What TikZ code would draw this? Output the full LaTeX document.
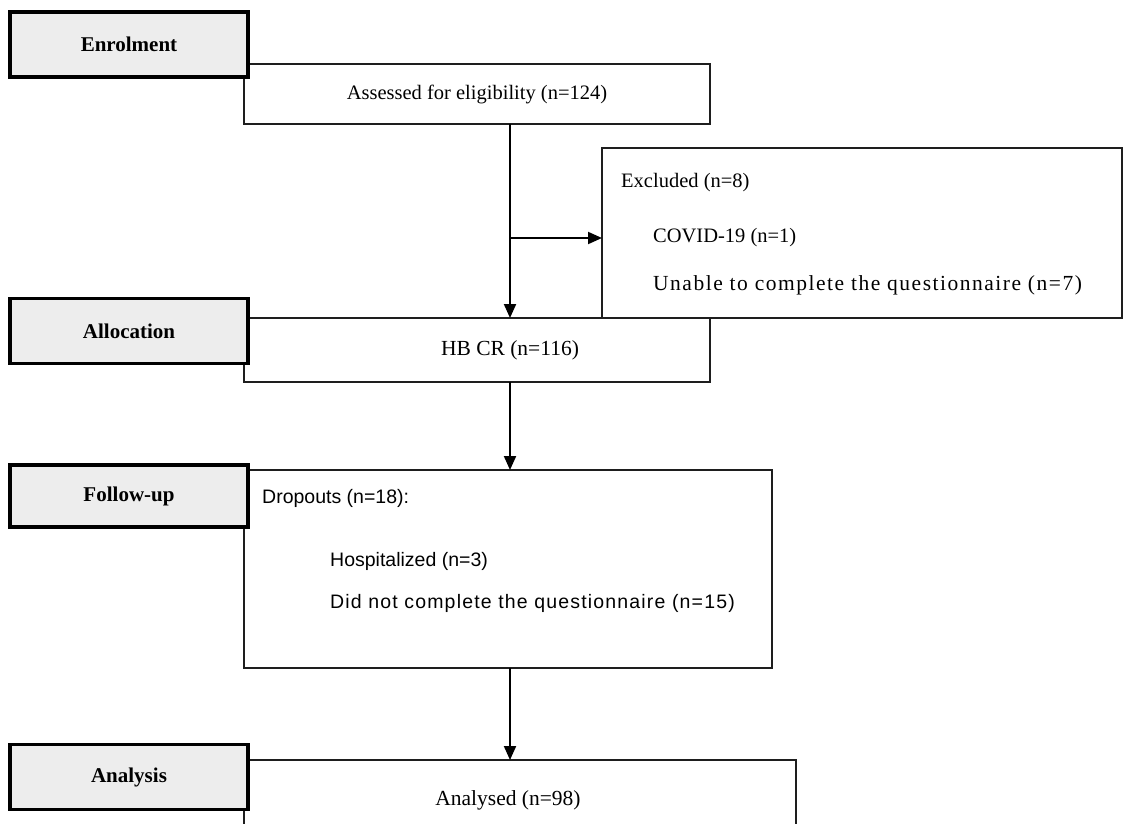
\documentclass[tikz,border=0pt]{standalone}
\usepackage{fontspec}
\setmainfont{Liberation Serif}
\newfontfamily\sansf{Liberation Sans}
\newfontfamily\widesansf[LetterSpace=6]{Liberation Sans}
\newfontfamily\wideserif[LetterSpace=7]{Liberation Serif}
\usetikzlibrary{arrows.meta}
\definecolor{hdrgray}{RGB}{237,237,237}
\definecolor{boxline}{RGB}{30,30,30}
\tikzset{
  hdr/.style={draw=black, line width=3.2pt, fill=hdrgray, font=\fontsize{21}{24}\selectfont\bfseries},
  mainbox/.style={draw=boxline, line width=2pt, fill=white},
  txt/.style={inner sep=0pt, font=\fontsize{20.5}{24}\selectfont},
  bigtxt/.style={inner sep=0pt, font=\fontsize{21.5}{25}\selectfont},
  stxt/.style={inner sep=0pt, font=\sansf\fontsize{19.5}{23}\selectfont},
  flow/.style={draw=black, line width=2pt, -{Triangle[length=14pt,width=12pt]}},
}
\begin{document}
\begin{tikzpicture}[x=1pt,y=-1pt]
\useasboundingbox (0,0) rectangle (1124,824);
\clip (0,0) rectangle (1124,824);
% main boxes
\draw[mainbox] (244,64) rectangle (710,124);
\node[txt] (assessed) at (477,94) {Assessed for eligibility (n=124)};
\draw[mainbox] (602,148) rectangle (1122,318);
\node[txt, anchor=west] (excl) at (621,183) {Excluded (n=8)};
\node[txt, anchor=west] (covid) at (653,238) {COVID-19 (n=1)};
\node[txt, anchor=west, font=\wideserif\fontsize{21.5}{25}\selectfont] (unable) at (653,285) {Unable to complete the questionnaire (n=7)};
\draw[mainbox] (244,318) rectangle (710,382);
\node[bigtxt] (hbcr) at (510,350) {HB CR (n=116)};
\draw[mainbox] (244,470) rectangle (772,668);
\node[stxt, anchor=west] (drop) at (262,498) {Dropouts (n=18):};
\node[stxt, anchor=west] (hosp) at (330,561) {Hospitalized (n=3)};
\node[stxt, anchor=west, font=\widesansf\fontsize{19.5}{23}\selectfont] (didnot) at (330,603) {Did not complete the questionnaire (n=15)};
\draw[mainbox] (244,760) rectangle (796,840);
\node[bigtxt] (analysed) at (508,800) {Analysed (n=98)};
% connectors
\coordinate (a1) at (510,124);
\coordinate (a2) at (510,318);
\coordinate (b1) at (510,238);
\coordinate (b2) at (602,238);
\coordinate (c1) at (510,382);
\coordinate (c2) at (510,470);
\coordinate (d1) at (510,668);
\coordinate (d2) at (510,760);
\draw[flow] (a1) -- (a2);
\draw[flow] (b1) -- (b2);
\draw[flow] (c1) -- (c2);
\draw[flow] (d1) -- (d2);
% header boxes
\node[hdr, minimum width=238pt, minimum height=65pt] (enrol) at (129,44.5) {Enrolment};
\node[hdr, minimum width=238pt, minimum height=65pt] (alloc) at (129,331) {Allocation};
\node[hdr, minimum width=238pt, minimum height=62pt] (follow) at (129,496) {Follow-up};
\node[hdr, minimum width=238pt, minimum height=65pt] (anal) at (129,777) {Analysis};
\end{tikzpicture}
\end{document}
